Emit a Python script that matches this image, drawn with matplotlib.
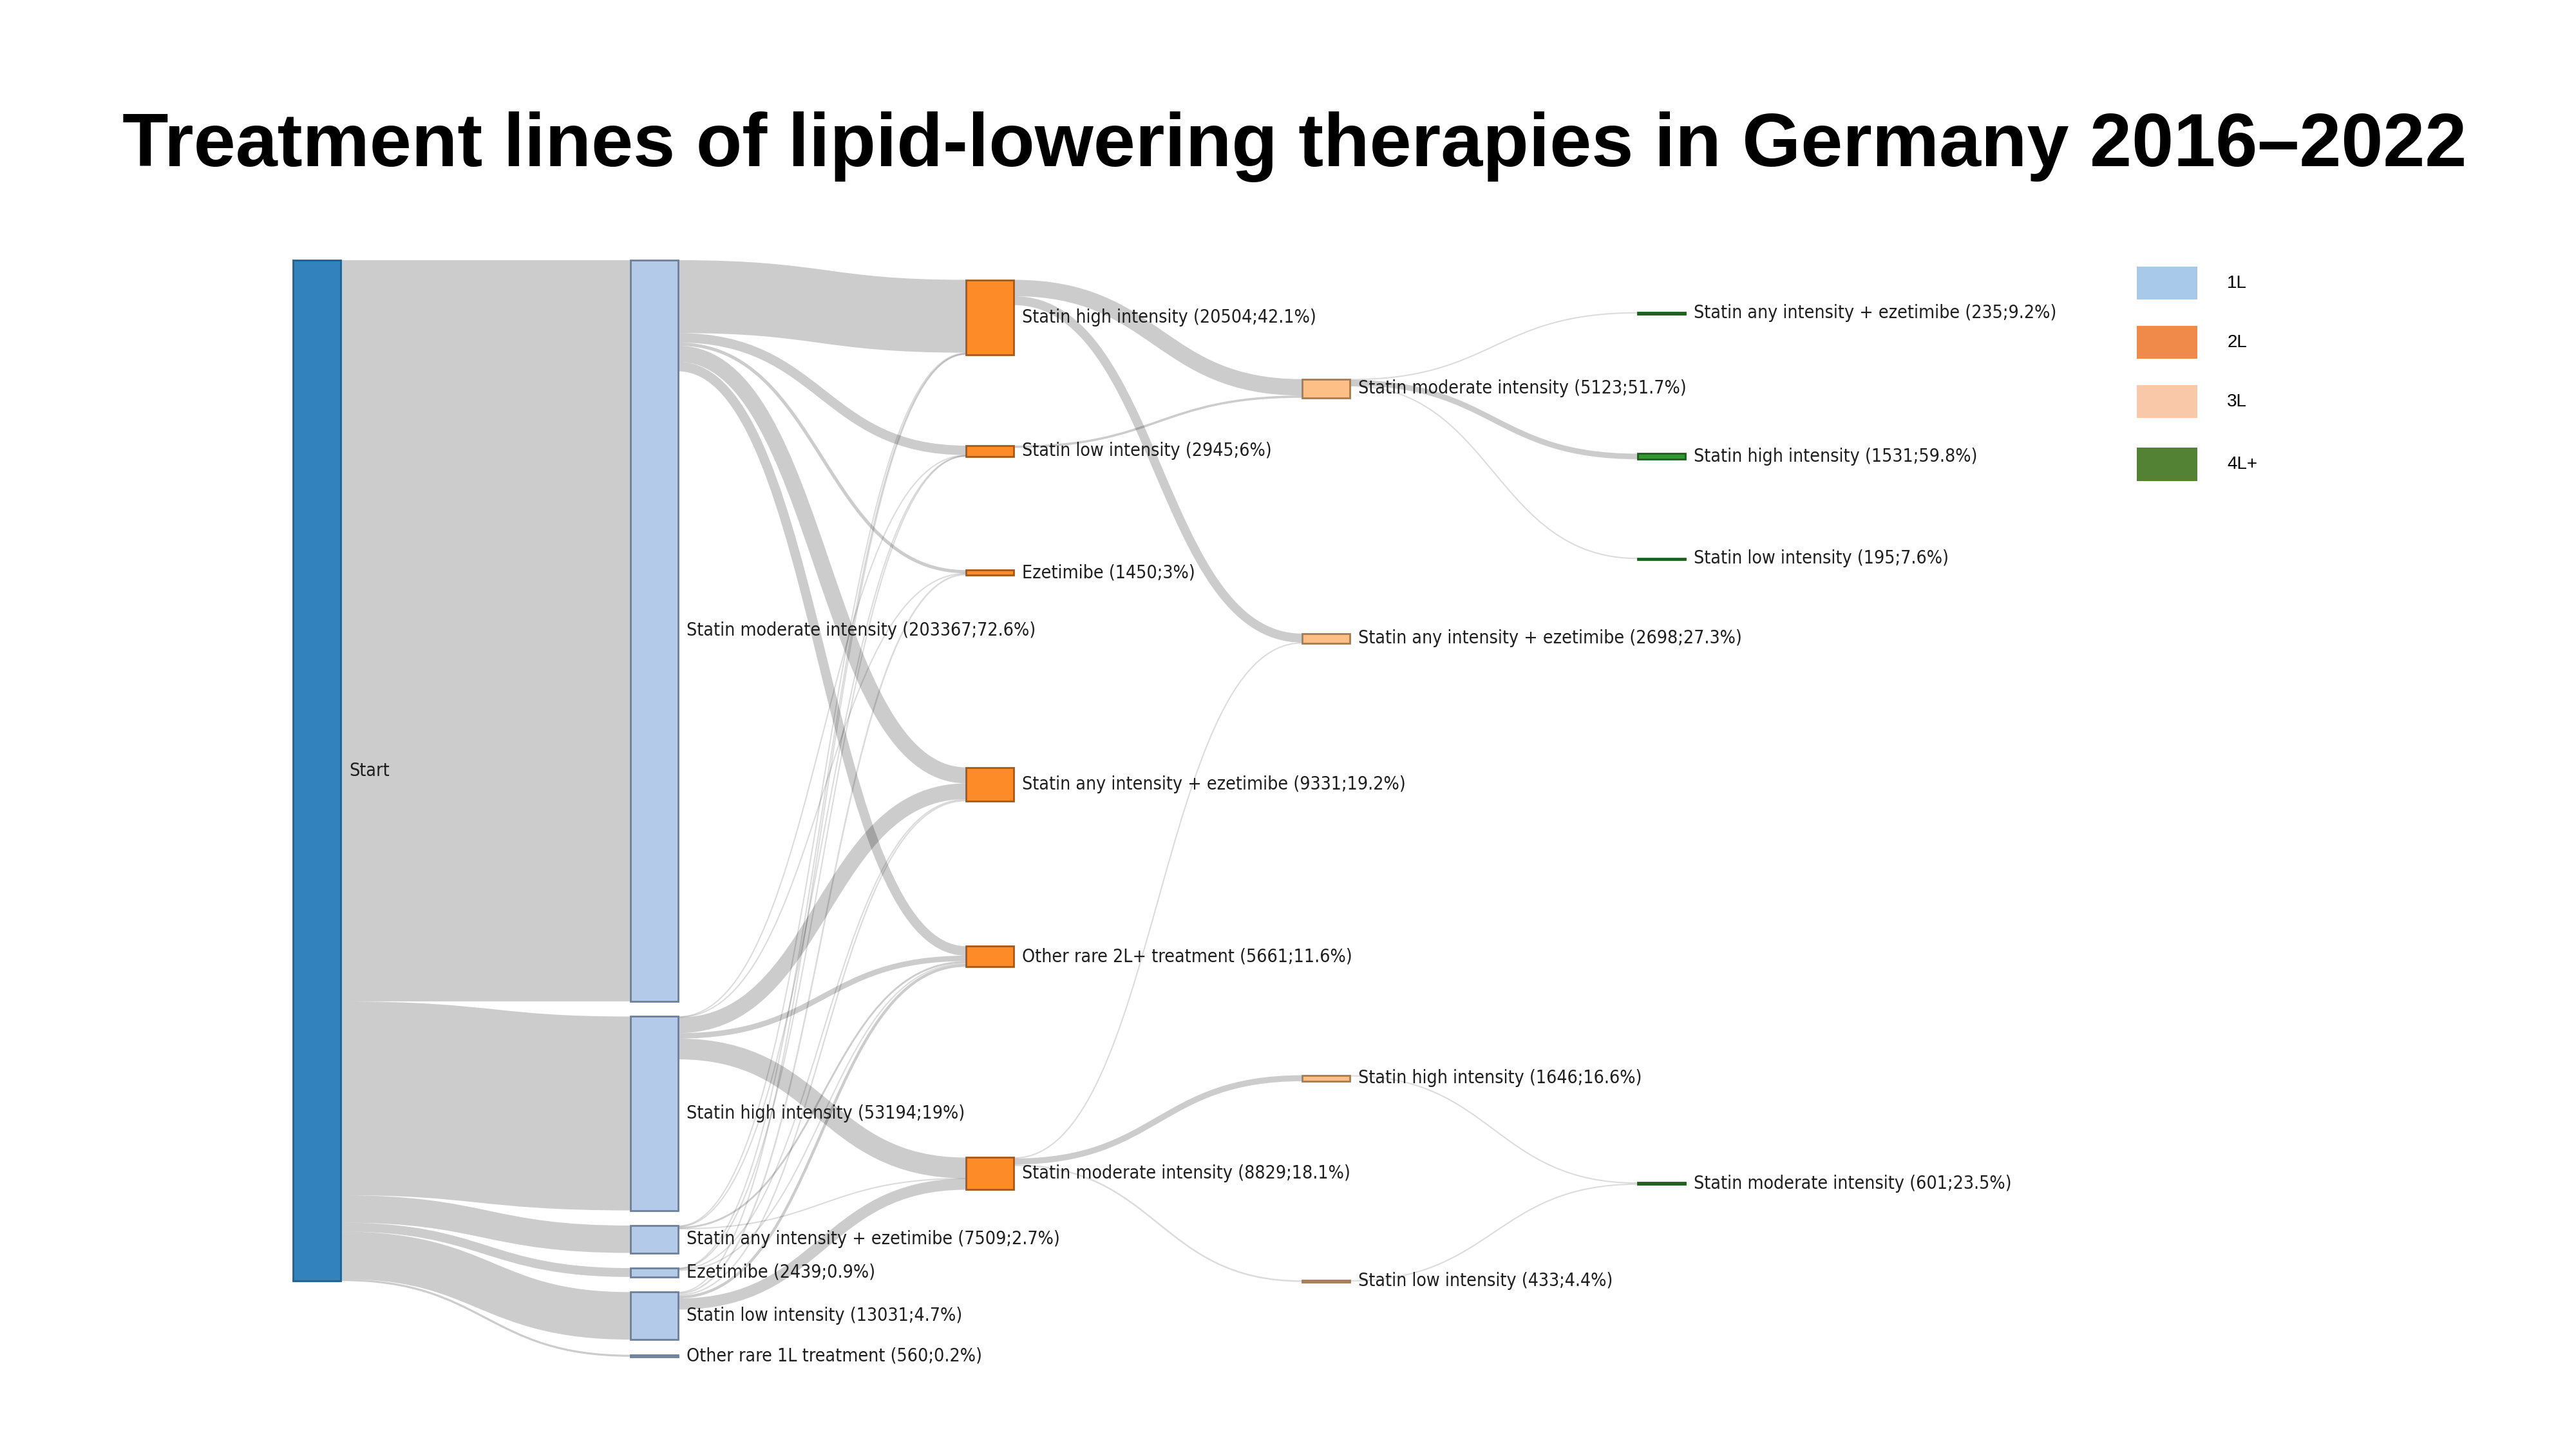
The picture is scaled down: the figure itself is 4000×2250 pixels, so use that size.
import matplotlib
matplotlib.use('Agg')
import matplotlib.pyplot as plt
from matplotlib.path import Path
from matplotlib.patches import PathPatch, Rectangle

# ---- data: patients per treatment line (values and shares as printed) ----
start_value = 280100

l1_names = ['Statin moderate intensity', 'Statin high intensity', 'Statin any intensity + ezetimibe',
            'Ezetimibe', 'Statin low intensity', 'Other rare 1L treatment']
l1_values = [203367, 53194, 7509, 2439, 13031, 560]
l1_pct = [72.6, 19, 2.7, 0.9, 4.7, 0.2]

l2_names = ['Statin high intensity', 'Statin low intensity', 'Ezetimibe',
            'Statin any intensity + ezetimibe', 'Other rare 2L+ treatment', 'Statin moderate intensity']
l2_values = [20504, 2945, 1450, 9331, 5661, 8829]
l2_pct = [42.1, 6, 3, 19.2, 11.6, 18.1]

l3_names = ['Statin moderate intensity', 'Statin any intensity + ezetimibe',
            'Statin high intensity', 'Statin low intensity']
l3_values = [5123, 2698, 1646, 433]
l3_pct = [51.7, 27.3, 16.6, 4.4]

l4_names = ['Statin any intensity + ezetimibe', 'Statin high intensity',
            'Statin low intensity', 'Statin moderate intensity']
l4_values = [235, 1531, 195, 601]
l4_pct = [9.2, 59.8, 7.6, 23.5]

# switches between lines: (source index, target index, patients), estimated from band widths
flows_1_2 = [(0, 0, 20000), (0, 1, 2600), (0, 2, 900), (0, 3, 4400), (0, 4, 2600),
             (1, 1, 150), (1, 2, 100), (1, 3, 4300), (1, 4, 1500), (1, 5, 5700),
             (2, 0, 250), (2, 1, 100), (2, 4, 500), (2, 5, 80),
             (3, 0, 100), (3, 1, 95), (3, 3, 250), (3, 4, 300),
             (4, 0, 154), (4, 2, 450), (4, 3, 381), (4, 4, 761), (4, 5, 3049)]
flows_2_3 = [(0, 0, 4500), (0, 1, 2450), (1, 0, 623),
             (5, 1, 248), (5, 2, 1646), (5, 3, 433)]
flows_3_4 = [(0, 0, 235), (0, 1, 1531), (0, 2, 195), (2, 3, 350), (3, 3, 251)]

legend_labels = ['1L', '2L', '3L', '4L+']

# ---- layout (canvas units, y downwards) ----
W, H = 1565, 880
top, bottom = 158, 824
col_x = [178, 383, 587, 791, 995]
node_w = 29
node_gap = 9.2
# vertical centre of the nodes in lines 2-4, as fraction of the plot height
l2_pos = [0.052, 0.174, 0.285, 0.478, 0.635, 0.833]
l3_pos = [0.117, 0.345, 0.746, 0.931]
l4_pos = [0.048, 0.179, 0.272, 0.842]

fills = ['#3182bd', '#b3cbe9', '#fd8c28', '#fdbf85', '#2f9a2f']
edges = ['#255f8a', '#6d7f99', '#a5581c', '#a57b52', '#1d5e1d']
legend_colors = ['#a9c9ea', '#f08a4b', '#f8c8a8', '#548235']

plt.rcParams['font.family'] = ['DejaVu Sans']
fig = plt.figure(figsize=(16, 9), dpi=250)
ax = fig.add_axes([0, 0, 1, 1])
ax.set_xlim(0, W)
ax.set_ylim(H, 0)
ax.axis('off')
pt = fig.get_figheight() * 72 / H  # points per canvas unit

n_gaps = len(l1_values) - 1
ky = (bottom - top - n_gaps * node_gap) / sum(l1_values)

nodes = {}
nodes[(0, 0)] = dict(name='Start', value=start_value, pct=None, y0=top, y1=top + start_value * ky)
y = top
for i, v in enumerate(l1_values):
    nodes[(1, i)] = dict(name=l1_names[i], value=v, pct=l1_pct[i], y0=y, y1=y + v * ky)
    y += v * ky + node_gap
for col, names, vals, pcts, pos in [(2, l2_names, l2_values, l2_pct, l2_pos),
                                    (3, l3_names, l3_values, l3_pct, l3_pos),
                                    (4, l4_names, l4_values, l4_pct, l4_pos)]:
    for i, v in enumerate(vals):
        c = top + pos[i] * (bottom - top)
        nodes[(col, i)] = dict(name=names[i], value=v, pct=pcts[i], y0=c - v * ky / 2, y1=c + v * ky / 2)

links = [((0, 0), (1, i), v) for i, v in enumerate(l1_values)]
for col, fl in [(1, flows_1_2), (2, flows_2_3), (3, flows_3_4)]:
    for s, t, v in fl:
        links.append(((col, s), (col + 1, t), v))

def mid(k):
    return (nodes[k]['y0'] + nodes[k]['y1']) / 2

# stack links on each node side, ordered by the position of the other end
out_y, in_y = {}, {}
for k in nodes:
    outs = sorted([l for l in links if l[0] == k], key=lambda l: mid(l[1]))
    y = nodes[k]['y0']
    for l in outs:
        out_y[l] = y + l[2] * ky / 2
        y += l[2] * ky
    ins = sorted([l for l in links if l[1] == k], key=lambda l: mid(l[0]))
    y = nodes[k]['y0']
    for l in ins:
        in_y[l] = y + l[2] * ky / 2
        y += l[2] * ky

for l in links:
    x0 = col_x[l[0][0]] + node_w
    x1 = col_x[l[1][0]]
    y0, y1 = out_y[l], in_y[l]
    xm = (x0 + x1) / 2
    w = l[2] * ky
    p = Path([(x0, y0), (xm, y0), (xm, y1), (x1, y1)],
             [Path.MOVETO, Path.CURVE4, Path.CURVE4, Path.CURVE4])
    ax.add_patch(PathPatch(p, facecolor='none', edgecolor='black',
                           alpha=0.2 if w >= 1 else 0.14,
                           lw=max(w, 0.8) * pt, capstyle='butt'))

for k, n in nodes.items():
    col = k[0]
    ax.add_patch(Rectangle((col_x[col], n['y0']), node_w, max(n['y1'] - n['y0'], 1.0),
                           facecolor=fills[col], edgecolor=edges[col], lw=0.8))
    if n['pct'] is None:
        label = n['name']
    else:
        label = '%s (%d;%g%%)' % (n['name'], n['value'], n['pct'])
    ax.text(col_x[col] + node_w + 5, mid(k), label, fontsize=8.2, color='#1e1e1e',
            va='center', ha='left', fontstretch='condensed')

# legend
for i, lab in enumerate(legend_labels):
    yc = [172, 208, 244, 282][i]
    ax.add_patch(Rectangle((1298, yc - 10), 37, 20, facecolor=legend_colors[i], edgecolor='none'))
    ax.text(1353, yc, lab, fontsize=8, va='center', ha='left', family='Liberation Sans')

ax.text(W / 2 + 4, 101, 'Treatment lines of lipid-lowering therapies in Germany 2016\u20132022',
        fontsize=33.7, fontweight='bold', ha='center', va='baseline', family='Liberation Sans')

fig.savefig('out.png', dpi=250, facecolor='white')
